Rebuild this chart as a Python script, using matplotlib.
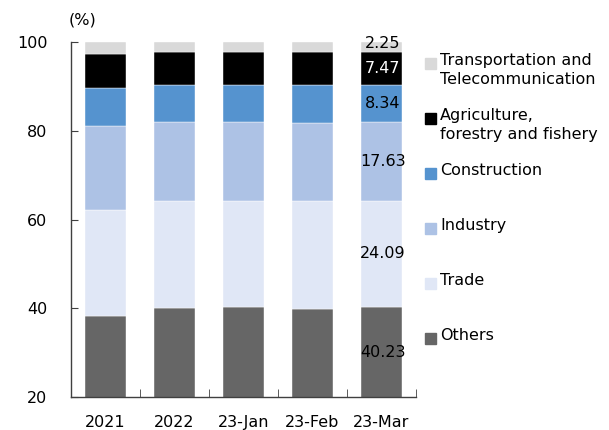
import matplotlib
matplotlib.use("Agg")
import matplotlib.pyplot as plt
from matplotlib.patches import Rectangle
import numpy as np

categories = ["2021", "2022", "23-Jan", "23-Feb", "23-Mar"]
series_names = ["Others", "Trade", "Industry", "Construction",
                "Agriculture,\nforestry and fishery",
                "Transportation and\nTelecommunication"]
others = [38.3, 40.0, 40.3, 39.9, 40.23]
trade = [23.8, 24.3, 24.0, 24.2, 24.09]
industry = [19.0, 17.7, 17.7, 17.65, 17.63]
construction = [8.5, 8.35, 8.35, 8.6, 8.34]
agriculture = [7.85, 7.45, 7.45, 7.45, 7.47]
transport = [2.55, 2.2, 2.2, 2.2, 2.25]
label_texts = ["40.23", "24.09", "17.63", "8.34", "7.47", "2.25"]

colors = ["#666666", "#e0e7f6", "#adc2e5", "#5593cf", "#000000", "#d9d9d9"]
label_colors = ["black", "black", "black", "black", "white", "black"]

plt.rcParams['font.family'] = ['DejaVu Sans']
fig = plt.figure(figsize=(6.09, 4.30), dpi=100)
ax = fig.add_axes([71/609, 1-397/430, (416-71)/609, (397-42.33)/430])

data = [others, trade, industry, construction, agriculture, transport]
x = np.arange(len(categories))
bottom = np.zeros(len(categories))
width = 0.59
ymin, ymax = 20, 100
for vals, col in zip(data, colors):
    ax.bar(x, vals, width, bottom=bottom, color=col, edgecolor="white", linewidth=0.3, zorder=2)
    bottom = bottom + np.array(vals)

# labels on last bar
b = 0.0
last = len(categories) - 1
for vals, txt, lc in zip(data, label_texts, label_colors):
    v = vals[last]
    lo = max(b, ymin)
    hi = min(b + v, ymax)
    yc = (lo + hi) / 2
    if txt == "2.25":
        yc += 0.8
    ax.text(x[last] + 0.02, yc, txt, ha="center", va="center",
            fontsize=11.5, color=lc, zorder=3)
    b += v

ax.set_xlim(-0.5, len(categories) - 0.5)
ax.set_ylim(ymin, ymax)
ax.set_yticks([20, 40, 60, 80, 100])
ax.set_xticks(x)
ax.set_xticklabels(categories)
ax.set_xticks(np.arange(-0.5, len(categories)), minor=True)
ax.tick_params(axis="x", which="major", length=0, pad=13, labelsize=11.5)
ax.tick_params(axis="x", which="minor", direction="in", length=6, color="#404040")
ax.tick_params(axis="y", direction="in", length=5, pad=17, labelsize=11.5, color="#404040")
for s in ["top", "right"]:
    ax.spines[s].set_visible(False)
for s in ["left", "bottom"]:
    ax.spines[s].set_color("#404040")
    ax.spines[s].set_linewidth(1.0)

fig.text(69/609, 1-20/430, "(%)", ha="left", va="center", fontsize=11.5)

# legend (top to bottom)
leg_order = list(range(len(series_names)))[::-1]
y0 = 63
dy = 55
for i, idx in enumerate(leg_order):
    yc = y0 + i * dy
    fig.patches.append(Rectangle((425/609, 1-(yc+5.5)/430), 11/609, 11/430,
                                 transform=fig.transFigure, color=colors[idx], figure=fig))
    fig.text(440/609, 1-(yc-10)/430, series_names[idx], ha="left", va="top",
             fontsize=11.5, linespacing=1.35)

fig.savefig("out.png", dpi=100)
